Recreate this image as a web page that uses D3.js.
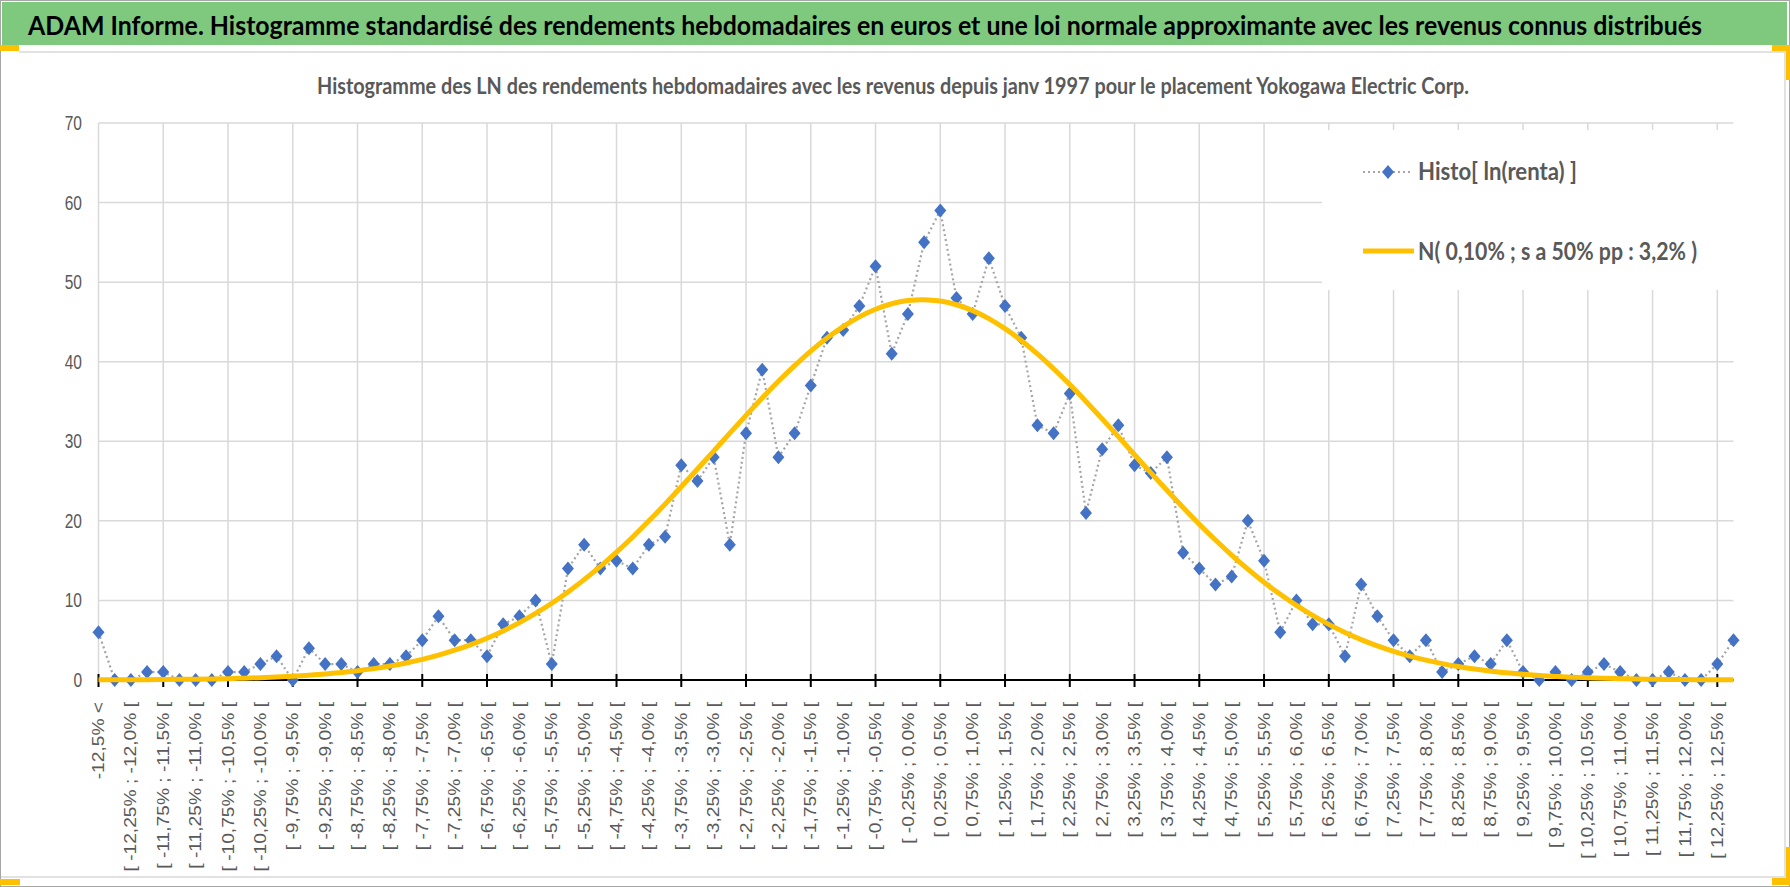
<!DOCTYPE html>
<html>
<head>
<meta charset="utf-8">
<script src="https://cdn.jsdelivr.net/npm/d3@7"></script>
<style>
body { margin: 0; background: #fff; }
svg { display: block; }
</style>
</head>
<body>
<div id="chart"></div>
<script>
// Histogram classes of the weekly log returns (0,25% wide), with the two tail classes.
var categories = [
	'-12,5% <',
	'[ -12,5% ; -12,25% [', '[ -12,25% ; -12,0% [', '[ -12,0% ; -11,75% [', '[ -11,75% ; -11,5% [',
	'[ -11,5% ; -11,25% [', '[ -11,25% ; -11,0% [', '[ -11,0% ; -10,75% [', '[ -10,75% ; -10,5% [',
	'[ -10,5% ; -10,25% [', '[ -10,25% ; -10,0% [', '[ -10,0% ; -9,75% [', '[ -9,75% ; -9,5% [',
	'[ -9,5% ; -9,25% [', '[ -9,25% ; -9,0% [', '[ -9,0% ; -8,75% [', '[ -8,75% ; -8,5% [',
	'[ -8,5% ; -8,25% [', '[ -8,25% ; -8,0% [', '[ -8,0% ; -7,75% [', '[ -7,75% ; -7,5% [',
	'[ -7,5% ; -7,25% [', '[ -7,25% ; -7,0% [', '[ -7,0% ; -6,75% [', '[ -6,75% ; -6,5% [',
	'[ -6,5% ; -6,25% [', '[ -6,25% ; -6,0% [', '[ -6,0% ; -5,75% [', '[ -5,75% ; -5,5% [',
	'[ -5,5% ; -5,25% [', '[ -5,25% ; -5,0% [', '[ -5,0% ; -4,75% [', '[ -4,75% ; -4,5% [',
	'[ -4,5% ; -4,25% [', '[ -4,25% ; -4,0% [', '[ -4,0% ; -3,75% [', '[ -3,75% ; -3,5% [',
	'[ -3,5% ; -3,25% [', '[ -3,25% ; -3,0% [', '[ -3,0% ; -2,75% [', '[ -2,75% ; -2,5% [',
	'[ -2,5% ; -2,25% [', '[ -2,25% ; -2,0% [', '[ -2,0% ; -1,75% [', '[ -1,75% ; -1,5% [',
	'[ -1,5% ; -1,25% [', '[ -1,25% ; -1,0% [', '[ -1,0% ; -0,75% [', '[ -0,75% ; -0,5% [',
	'[ -0,5% ; -0,25% [', '[ -0,25% ; 0,0% [', '[ 0,0% ; 0,25% [', '[ 0,25% ; 0,5% [',
	'[ 0,5% ; 0,75% [', '[ 0,75% ; 1,0% [', '[ 1,0% ; 1,25% [', '[ 1,25% ; 1,5% [',
	'[ 1,5% ; 1,75% [', '[ 1,75% ; 2,0% [', '[ 2,0% ; 2,25% [', '[ 2,25% ; 2,5% [',
	'[ 2,5% ; 2,75% [', '[ 2,75% ; 3,0% [', '[ 3,0% ; 3,25% [', '[ 3,25% ; 3,5% [',
	'[ 3,5% ; 3,75% [', '[ 3,75% ; 4,0% [', '[ 4,0% ; 4,25% [', '[ 4,25% ; 4,5% [',
	'[ 4,5% ; 4,75% [', '[ 4,75% ; 5,0% [', '[ 5,0% ; 5,25% [', '[ 5,25% ; 5,5% [',
	'[ 5,5% ; 5,75% [', '[ 5,75% ; 6,0% [', '[ 6,0% ; 6,25% [', '[ 6,25% ; 6,5% [',
	'[ 6,5% ; 6,75% [', '[ 6,75% ; 7,0% [', '[ 7,0% ; 7,25% [', '[ 7,25% ; 7,5% [',
	'[ 7,5% ; 7,75% [', '[ 7,75% ; 8,0% [', '[ 8,0% ; 8,25% [', '[ 8,25% ; 8,5% [',
	'[ 8,5% ; 8,75% [', '[ 8,75% ; 9,0% [', '[ 9,0% ; 9,25% [', '[ 9,25% ; 9,5% [',
	'[ 9,5% ; 9,75% [', '[ 9,75% ; 10,0% [', '[ 10,0% ; 10,25% [', '[ 10,25% ; 10,5% [',
	'[ 10,5% ; 10,75% [', '[ 10,75% ; 11,0% [', '[ 11,0% ; 11,25% [', '[ 11,25% ; 11,5% [',
	'[ 11,5% ; 11,75% [', '[ 11,75% ; 12,0% [', '[ 12,0% ; 12,25% [', '[ 12,25% ; 12,5% [',
	'12,5% >'
];

// Counts per class (Histo[ ln(renta) ]).
var histoValues = [
	6, 0, 0, 1, 1, 0, 0, 0, 1, 1,
	2, 3, 0, 4, 2, 2, 1, 2, 2, 3,
	5, 8, 5, 5, 3, 7, 8, 10, 2, 14,
	17, 14, 15, 14, 17, 18, 27, 25, 28, 17,
	31, 39, 28, 31, 37, 43, 44, 47, 52, 41,
	46, 55, 59, 48, 46, 53, 47, 43, 32, 31,
	36, 21, 29, 32, 27, 26, 28, 16, 14, 12,
	13, 20, 15, 6, 10, 7, 7, 3, 12, 8,
	5, 3, 5, 1, 2, 3, 2, 5, 1, 0,
	1, 0, 1, 2, 1, 0, 0, 1, 0, 0,
	2, 5
];

// Approximating normal curve.
var normalValues = [
	0.02, 0.02, 0.03, 0.04, 0.06, 0.08, 0.10, 0.13, 0.17, 0.23,
	0.29, 0.37, 0.47, 0.60, 0.75, 0.94, 1.16, 1.43, 1.76, 2.14,
	2.59, 3.12, 3.74, 4.45, 5.25, 6.17, 7.21, 8.37, 9.65, 11.06,
	12.61, 14.27, 16.07, 17.98, 20.00, 22.10, 24.28, 26.51, 28.77, 31.03,
	33.26, 35.44, 37.54, 39.51, 41.34, 42.98, 44.42, 45.64, 46.59, 47.28,
	47.68, 47.80, 47.62, 47.16, 46.42, 45.41, 44.15, 42.67, 40.98, 39.12,
	37.13, 35.01, 32.82, 30.58, 28.31, 26.06, 23.84, 21.67, 19.58, 17.59,
	15.70, 13.93, 12.28, 10.77, 9.38, 8.12, 6.99, 5.98, 5.08, 4.29,
	3.61, 3.01, 2.50, 2.06, 1.69, 1.37, 1.11, 0.90, 0.72, 0.57,
	0.45, 0.35, 0.28, 0.21, 0.17, 0.13, 0.10, 0.07, 0.05, 0.04,
	0.03, 0.02
];

var yTicks = [0, 10, 20, 30, 40, 50, 60, 70];
var seriesNames = ['Histo[ ln(renta) ]', 'N( 0,10% ; s a 50% pp : 3,2% )'];
var titleText = 'ADAM Informe. Histogramme standardisé des rendements hebdomadaires en euros et une loi normale approximante avec les revenus connus distribués';
var subtitleText = 'Histogramme  des LN des rendements hebdomadaires avec les revenus depuis janv 1997 pour le placement Yokogawa Electric  Corp.';

var w = 1790;
var h = 887;
var plot = {left: 98.5, right: 1733.5, top: 123, bottom: 680};
var grey = '#595959';
var blue = '#4472c4';
var gold = '#ffc000';

var svg = d3.select('#chart')
	.append('svg')
	.attr('width', w)
	.attr('height', h)
	.style('font-family', "'Liberation Sans', Arial, sans-serif");

// Outer frame, green banner and the chart area border.
svg.append('rect')
	.attr('x', 0.5).attr('y', 0.5)
	.attr('width', w - 1).attr('height', h - 1)
	.attr('fill', '#fff')
	.attr('stroke', '#a6a6a6');
svg.append('rect')
	.attr('x', 2).attr('y', 2)
	.attr('width', 1785).attr('height', 43)
	.attr('fill', '#7fc97f');
// The picture is stretched vertically, so the texts are too.
svg.append('text')
	.attr('transform', 'translate(28,35) scale(1,1.25)')
	.attr('textLength', 1674)
	.attr('lengthAdjust', 'spacingAndGlyphs')
	.style('font-family', "Lato, 'Open Sans', sans-serif")
	.style('font-weight', 'bold')
	.style('font-size', '22px')
	.attr('fill', '#000')
	.text(titleText);
svg.append('path')
	.attr('d', 'M19,52H1785V877H1')
	.attr('fill', 'none')
	.attr('stroke', '#d9d9d9')
	.attr('stroke-width', 1.5);

// The little orange selection handles in the corners.
var handles = [[0, 45, 19, 6], [1772, 45, 18, 6], [1786, 45, 4, 35], [0, 879, 20, 6], [1772, 878, 18, 7], [1786, 847, 4, 38]];
svg.selectAll('rect.handle')
	.data(handles)
	.enter()
	.append('rect')
	.attr('class', 'handle')
	.attr('x', function(d) { return d[0]; })
	.attr('y', function(d) { return d[1]; })
	.attr('width', function(d) { return d[2]; })
	.attr('height', function(d) { return d[3]; })
	.attr('fill', gold);

svg.append('text')
	.attr('transform', 'translate(317,94) scale(1,1.2)')
	.attr('textLength', 1152)
	.attr('lengthAdjust', 'spacingAndGlyphs')
	.style('font-family', "Lato, 'Open Sans', sans-serif")
	.style('font-weight', 'bold')
	.style('font-size', '18.5px')
	.attr('fill', grey)
	.text(subtitleText);

var x = d3.scalePoint().domain(categories).range([plot.left, plot.right]);
var y = d3.scaleLinear().domain([0, 70]).range([plot.bottom, plot.top]);

var tickCats = categories.filter(function(d, i) { return i % 4 === 0; });
var labelCats = categories.filter(function(d, i) { return i % 2 === 0; });

// Gridlines.
var grid = svg.append('g').attr('stroke', '#d9d9d9').attr('stroke-width', 1.5);
grid.selectAll('line.h')
	.data(yTicks.slice(1))
	.enter()
	.append('line')
	.attr('x1', plot.left).attr('x2', plot.right)
	.attr('y1', function(d) { return y(d); })
	.attr('y2', function(d) { return y(d); });
grid.selectAll('line.v')
	.data(tickCats)
	.enter()
	.append('line')
	.attr('x1', function(d) { return x(d); })
	.attr('x2', function(d) { return x(d); })
	.attr('y1', plot.top).attr('y2', plot.bottom);

// Y labels.
svg.append('g')
	.selectAll('text')
	.data(yTicks)
	.enter()
	.append('text')
	.attr('transform', function(d) { return 'translate(82,' + y(d) + ') scale(1,1.3)'; })
	.attr('dy', '0.35em')
	.attr('text-anchor', 'end')
	.style('font-size', '15.5px')
	.attr('fill', grey)
	.text(function(d) { return d; });

// Category axis with crossing tick marks.
var axis = svg.append('g');
axis.append('line')
	.attr('x1', plot.left).attr('x2', plot.right)
	.attr('y1', y(0)).attr('y2', y(0))
	.attr('stroke', '#000')
	.attr('stroke-width', 2);
axis.selectAll('line.tick')
	.data(tickCats)
	.enter()
	.append('line')
	.attr('x1', function(d) { return x(d); })
	.attr('x2', function(d) { return x(d); })
	.attr('y1', y(0) - 6).attr('y2', y(0) + 7)
	.attr('stroke', '#000')
	.attr('stroke-width', 2);
axis.selectAll('text')
	.data(labelCats)
	.enter()
	.append('text')
	.attr('transform', function(d) { return 'translate(' + x(d) + ',702) rotate(-90) scale(1.2,1)'; })
	.attr('dy', '0.35em')
	.attr('text-anchor', 'end')
	.style('font-size', '16px')
	.attr('fill', grey)
	.text(function(d) { return d; });

// Histogram series: dotted grey line with blue diamonds.
var diamond = 'M0,-7L6,0L0,7L-6,0Z';
var line = d3.line()
	.x(function(d, i) { return x(categories[i]); })
	.y(function(d) { return y(d); });
svg.append('path')
	.datum(histoValues)
	.attr('d', line)
	.attr('fill', 'none')
	.attr('stroke', '#a5a5a5')
	.attr('stroke-width', 2.2)
	.attr('stroke-dasharray', '2,3');
svg.append('g')
	.selectAll('path')
	.data(histoValues)
	.enter()
	.append('path')
	.attr('d', diamond)
	.attr('transform', function(d, i) { return 'translate(' + x(categories[i]) + ',' + y(d) + ')'; })
	.attr('fill', blue);

// Normal curve, smoothed like the spreadsheet line.
svg.append('path')
	.datum(normalValues)
	.attr('d', line.curve(d3.curveCatmullRom.alpha(0.5)))
	.attr('fill', 'none')
	.attr('stroke', gold)
	.attr('stroke-width', 5)
	.attr('stroke-linejoin', 'round');

// Legend in its white box at the top right.
var legend = svg.append('g');
legend.append('rect')
	.attr('x', 1322).attr('y', 130)
	.attr('width', 423).attr('height', 160)
	.attr('fill', '#fff');
legend.append('line')
	.attr('x1', 1363).attr('x2', 1410)
	.attr('y1', 172).attr('y2', 172)
	.attr('stroke', '#a5a5a5')
	.attr('stroke-width', 2.2)
	.attr('stroke-dasharray', '2,3');
legend.append('path')
	.attr('d', diamond)
	.attr('transform', 'translate(1388,172)')
	.attr('fill', blue);
legend.append('line')
	.attr('x1', 1363).attr('x2', 1414)
	.attr('y1', 251).attr('y2', 251)
	.attr('stroke', gold)
	.attr('stroke-width', 5);
legend.selectAll('text')
	.data(seriesNames)
	.enter()
	.append('text')
	.attr('transform', function(d, i) { return 'translate(1418,' + (i === 0 ? 180 : 260) + ') scale(1,1.2)'; })
	.attr('textLength', function(d, i) { return i === 0 ? 159 : 279; })
	.attr('lengthAdjust', 'spacingAndGlyphs')
	.style('font-family', "Lato, 'Open Sans', sans-serif")
	.style('font-weight', 'bold')
	.style('font-size', '20px')
	.attr('fill', grey)
	.text(function(d) { return d; });
</script>
</body>
</html>
